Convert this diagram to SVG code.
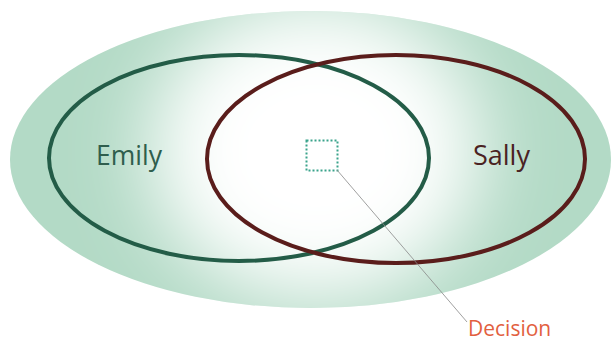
<svg xmlns="http://www.w3.org/2000/svg" width="613" height="342" viewBox="0 0 613 342">
  <defs>
    <clipPath id="outerClip">
      <ellipse cx="310.5" cy="159.5" rx="300.5" ry="148.5"/>
    </clipPath>
    <filter id="soft" x="-50%" y="-50%" width="200%" height="200%">
      <feGaussianBlur stdDeviation="40"/>
    </filter>
  </defs>
  <style>
    .ring { fill: none; stroke-width: 4; }
    .label { font-family: "Open Sans", "Noto Sans", "DejaVu Sans", sans-serif; }
  </style>
  <rect width="613" height="342" fill="#ffffff"/>
  <g id="background">
    <ellipse cx="310.5" cy="159.5" rx="300.5" ry="148.5" fill="#b3dac6"/>
    <g clip-path="url(#outerClip)">
      <ellipse cx="316" cy="150" rx="165" ry="150" fill="#ffffff" filter="url(#soft)"/>
    </g>
  </g>
  <g id="emily">
    <ellipse class="ring" cx="239" cy="158" rx="190" ry="103" stroke="#235c47"/>
    <text class="label" x="96" y="165" font-size="26.5" fill="#2f5e4d">Emily</text>
  </g>
  <g id="sally">
    <ellipse class="ring" cx="396" cy="159" rx="189" ry="104" stroke="#5a1d1b"/>
    <text class="label" x="473" y="165" font-size="27" fill="#4a2222">Sally</text>
  </g>
  <g id="decision">
    <rect x="306.5" y="140.5" width="31" height="30" fill="none" stroke="#3aa38b" stroke-width="2" stroke-dasharray="2 2"/>
    <text class="label" x="468" y="336" font-size="21" fill="#e2603f">Decision</text>
  </g>
  <g id="connectors">
    <line x1="337" y1="170" x2="467" y2="322" stroke="#888888" stroke-width="0.8"/>
  </g>
</svg>
